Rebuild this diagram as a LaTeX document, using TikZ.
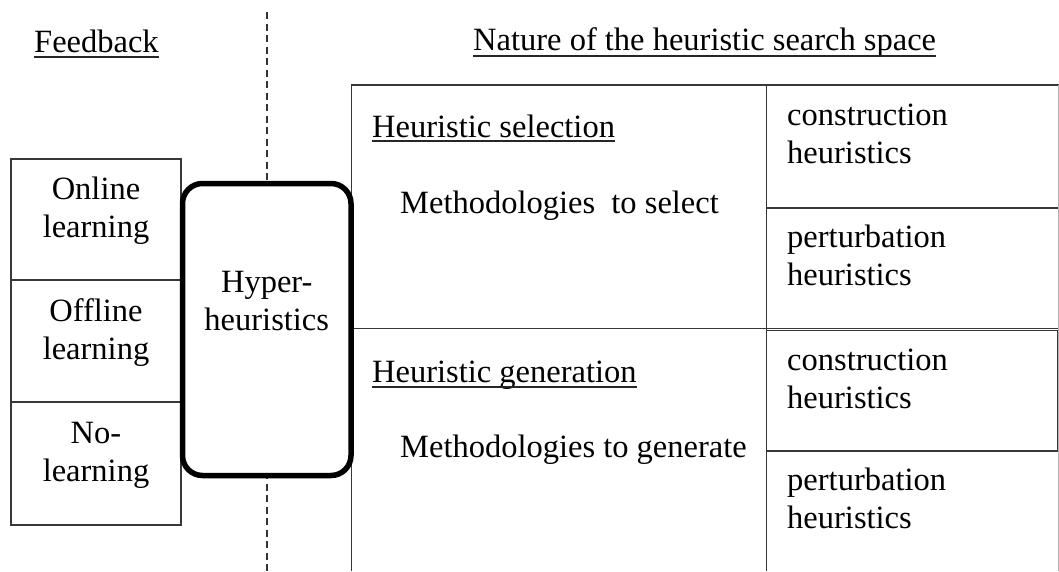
\documentclass[tikz,border=0pt]{standalone}
\usepackage{fontspec}
\setmainfont{Liberation Serif}
\begin{document}
\begin{tikzpicture}[x=1pt,y=-1pt,
  frame/.style={draw=black!78,line width=1.2pt},
  txt/.style={inner sep=0pt,font=\fontsize{32.5}{38}\selectfont},
  uline/.style={line width=1.8pt,black!85},
  sepline/.style={draw=black!80,line width=2.2pt,dash pattern=on 7pt off 4.5pt},
  hyperbox/.style={draw=black,line width=5.5pt,rounded corners=20pt,fill=white}]
\useasboundingbox (0,0) rectangle (1059,571);

% dividing line between the two halves
\draw[sepline] (266.7,12) -- (266.7,571);

% feedback column
\draw[frame] (11,159) rectangle (181,525);
\draw[frame] (11,280) -- (181,280);
\draw[frame] (11,402) -- (181,402);

% search-space table
\draw[frame] (351.5,571) -- (351.5,85) -- (1059,85);
\draw[frame] (766.5,85) -- (766.5,571);
\draw[frame] (766.5,208) -- (1059,208);
\draw[frame] (351.5,328.5) -- (1059,328.5);
\draw[frame] (766.5,330.5) rectangle (1057.5,451);
\draw[draw=black!30,line width=1pt] (1058.5,85) -- (1058.5,571);

% central box
\draw[hyperbox] (182.5,183.5) rectangle (351,475.5);

% headings
\node[txt,anchor=base west] (fb) at (34,52) {Feedback};
\draw[uline] ([yshift=-5pt]fb.base west) -- ([yshift=-5pt]fb.base east);
\node[txt,anchor=base west] (nat) at (473,50) {Nature of the heuristic search space};
\draw[uline] ([yshift=-6pt]nat.base west) -- ([yshift=-6pt]nat.base east);

% feedback kinds
\node[txt,anchor=base] (on) at (96,199) {\begin{tabular}[t]{@{}c@{}}Online\\learning\end{tabular}};
\node[txt,anchor=base] (off) at (96,321.7) {\begin{tabular}[t]{@{}c@{}}Offline\\learning\end{tabular}};
\node[txt,anchor=base] (no) at (96,443) {\begin{tabular}[t]{@{}c@{}}No-\\learning\end{tabular}};

% hyper-heuristics
\node[txt,anchor=base] (hh) at (266.75,292) {\begin{tabular}[t]{@{}c@{}}Hyper-\\heuristics\end{tabular}};

% selection section
\node[txt,anchor=base west] (sel) at (372,137) {Heuristic selection};
\draw[uline] ([yshift=-4pt]sel.base west) -- ([yshift=-4pt]sel.base east);
\node[txt,anchor=base west] (msel) at (400,213) {Methodologies~ to select};
\node[txt,anchor=base west] (c1) at (787,125) {\begin{tabular}[t]{@{}l@{}}construction\\heuristics\end{tabular}};
\node[txt,anchor=base west] (p1) at (787,247) {\begin{tabular}[t]{@{}l@{}}perturbation\\heuristics\end{tabular}};

% generation section
\node[txt,anchor=base west] (gen) at (372,382) {Heuristic generation};
\draw[uline] ([yshift=-5pt]gen.base west) -- ([yshift=-5pt]gen.base east);
\node[txt,anchor=base west] (mgen) at (400,457) {Methodologies to generate};
\node[txt,anchor=base west] (c2) at (787,370) {\begin{tabular}[t]{@{}l@{}}construction\\heuristics\end{tabular}};
\node[txt,anchor=base west] (p2) at (787,490) {\begin{tabular}[t]{@{}l@{}}perturbation\\heuristics\end{tabular}};
\end{tikzpicture}
\end{document}
